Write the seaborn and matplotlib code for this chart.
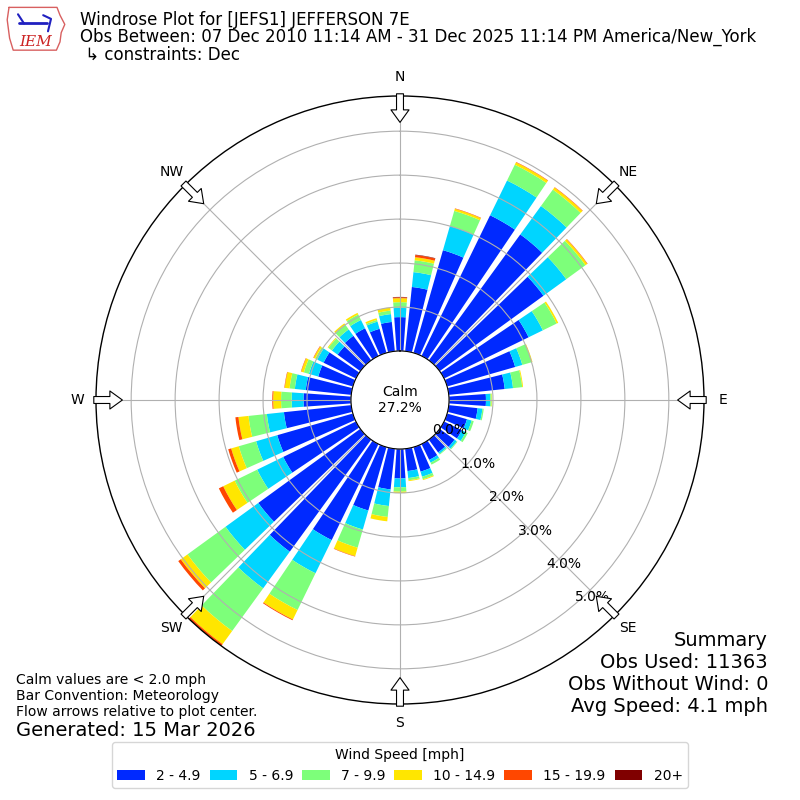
import numpy as np
import matplotlib
matplotlib.use('Agg')
import matplotlib.pyplot as plt
import seaborn as sns

# wind direction bins (degrees, meteorological) and frequency [%] per speed band
directions = np.arange(0, 360, 10)
speed_bins = ['2 - 4.9', '5 - 6.9', '7 - 9.9', '10 - 14.9', '15 - 19.9', '20+']

pct_2_5 = [0.77, 1.47, 2.43, 3.56, 3.54, 2.92, 2.14, 1.61, 1.28, 0.84, 0.66, 0.47,
           0.45, 0.42, 0.36, 0.40, 0.58, 0.51, 0.67, 0.93, 1.50, 2.43, 3.15, 2.87,
           1.84, 1.79, 1.54, 1.08, 1.04, 0.82, 0.82, 0.64, 0.69, 0.70, 0.57, 0.67]
pct_5_7 = [0.21, 0.34, 0.57, 0.88, 0.80, 0.64, 0.36, 0.17, 0.19, 0.10, 0.11, 0.11,
           0.10, 0.06, 0.04, 0.07, 0.12, 0.16, 0.20, 0.38, 0.45, 0.84, 1.03, 0.92,
           0.66, 0.50, 0.39, 0.27, 0.25, 0.22, 0.16, 0.16, 0.18, 0.21, 0.17, 0.18]
pct_7_10 = [0.13, 0.27, 0.36, 0.40, 0.46, 0.54, 0.35, 0.22, 0.21, 0.03, 0.03, 0.05,
            0.05, 0.02, 0.02, 0.05, 0.06, 0.05, 0.10, 0.25, 0.43, 0.93, 1.20, 1.07,
            0.57, 0.41, 0.42, 0.24, 0.12, 0.12, 0.05, 0.10, 0.13, 0.14, 0.04, 0.08]
pct_10_15 = [0.09, 0.07, 0.05, 0.06, 0.06, 0.05, 0.04, 0.02, 0.02, 0.01, 0.0, 0.0,
             0.0, 0.0, 0.0, 0.0, 0.02, 0.02, 0.03, 0.10, 0.20, 0.24, 0.37, 0.19,
             0.29, 0.18, 0.23, 0.18, 0.11, 0.06, 0.04, 0.02, 0.04, 0.04, 0.04, 0.07]
pct_15_20 = [0.02, 0.05, 0.01, 0.01, 0.01, 0.01, 0.0, 0.0, 0.0, 0.0, 0.0, 0.0,
             0.0, 0.0, 0.0, 0.0, 0.0, 0.0, 0.0, 0.0, 0.01, 0.02, 0.05, 0.07,
             0.11, 0.07, 0.07, 0.02, 0.01, 0.01, 0.01, 0.0, 0.0, 0.0, 0.0, 0.0]
pct_20_up = [0.01, 0.01, 0.0, 0.0, 0.0, 0.0, 0.0, 0.0, 0.0, 0.0, 0.0, 0.0,
             0.0, 0.0, 0.0, 0.0, 0.0, 0.0, 0.0, 0.0, 0.0, 0.0, 0.01, 0.0,
             0.0, 0.0, 0.0, 0.0, 0.0, 0.0, 0.0, 0.0, 0.0, 0.0, 0.0, 0.0]
bands = [pct_2_5, pct_5_7, pct_7_10, pct_10_15, pct_15_20, pct_20_up]

compass = ['N', 'NE', 'E', 'SE', 'S', 'SW', 'W', 'NW']
rings = [0, 1, 2, 3, 4, 5]
calm_pct = 27.2

sns.set_style('white', rc={'text.color': 'black', 'xtick.color': 'black',
                           'ytick.color': 'black', 'axes.edgecolor': 'black',
                           'grid.color': '#b0b0b0', 'axes.axisbelow': 'line'})
plt.rcParams['font.family'] = ['DejaVu Sans']

colors = sns.color_palette(list(plt.get_cmap('jet')(np.arange(1, 7) / 6)))

fig = plt.figure(figsize=(8, 8), dpi=100)
ax = fig.add_axes([0.12, 0.12, 0.76, 0.76], projection='polar')
ax.set_theta_zero_location('N')
ax.set_theta_direction(-1)

theta = np.radians(directions)
width = np.radians(10) * 0.8
bottom = np.zeros(len(directions))
for vals, lab, c in zip(bands, speed_bins, colors):
    ax.bar(theta, vals, width=width, bottom=bottom, color=c, label=lab,
           linewidth=0, zorder=1)
    bottom += np.array(vals)

ax.set_rorigin(-1.115)
ax.set_ylim(0, 5.8)
ax.set_yticks(rings)
ax.set_yticklabels([f'{r:.1f}%' for r in rings], fontsize=10)
ax.set_rlabel_position(139.5)
ax.set_xticks(np.radians(np.arange(0, 360, 45)))
ax.set_xticklabels(compass, fontsize=10)
ax.tick_params(axis='x', pad=3)
ax.grid(True, color='#b0b0b0', lw=0.8)
ax.spines['polar'].set_linewidth(1.0)

# flow arrows at the compass points
for ang in np.arange(0, 360, 45):
    t = np.radians(ang)
    ax.annotate('', xy=(t, 5.2), xytext=(t, 5.85), annotation_clip=False,
                arrowprops=dict(arrowstyle='simple,head_length=0.45,head_width=0.65,tail_width=0.25',
                                fc='white', ec='black', lw=0.8, mutation_scale=20,
                                shrinkA=0, shrinkB=0))

ax.text(0.5, 0.5, f'Calm\n{calm_pct:.1f}%', transform=ax.transAxes,
        ha='center', va='center', fontsize=10)

# header
fig.text(0.1, 1 - 20 / 800, 'Windrose Plot for [JEFS1] JEFFERSON 7E', fontsize=12, va='center')
fig.text(0.1, 1 - 37 / 800, 'Obs Between: 07 Dec 2010 11:14 AM - 31 Dec 2025 11:14 PM America/New_York',
         fontsize=12, va='center')
fig.text(0.1, 1 - 55 / 800, ' \u21b3 constraints: Dec', fontsize=12, va='center')

# simple IEM logo
lax = fig.add_axes([6 / 800, 1 - 52 / 800, 60 / 800, 46 / 800])
lax.set_xlim(0, 1)
lax.set_ylim(0, 1)
lax.axis('off')
lax.plot([0.05, 0.85, 0.9, 0.98, 0.92, 0.9, 0.84, 0.12, 0.06, 0.02, 0.05],
         [0.97, 0.97, 0.8, 0.6, 0.42, 0.22, 0.04, 0.04, 0.3, 0.7, 0.97],
         color='#d86060', lw=1)
lax.plot([0.22, 0.68], [0.62, 0.62], color='#2020c0', lw=2)
lax.plot([0.2, 0.3], [0.82, 0.62], color='#2020c0', lw=1.5)
lax.plot([0.62, 0.75, 0.7], [0.8, 0.72, 0.45], color='#2020c0', lw=1.5)
lax.text(0.5, 0.22, 'IEM', color='#cc2222', fontsize=11, ha='center', va='center',
         family='DejaVu Serif', style='italic')

# footer notes
fig.text(16 / 800, 1 - 680 / 800, 'Calm values are < 2.0 mph', fontsize=10, va='center')
fig.text(16 / 800, 1 - 696 / 800, 'Bar Convention: Meteorology', fontsize=10, va='center')
fig.text(16 / 800, 1 - 712 / 800, 'Flow arrows relative to plot center.', fontsize=10, va='center')
fig.text(16 / 800, 1 - 730 / 800, 'Generated: 15 Mar 2026', fontsize=14, va='center')

summary = ['Summary', 'Obs Used: 11363', 'Obs Without Wind: 0', 'Avg Speed: 4.1 mph']
for i, s in enumerate(summary):
    fig.text(768 / 800, 1 - (640 + 22 * i) / 800, s, fontsize=14, ha='right', va='center')

fig.legend(loc='lower center', bbox_to_anchor=(0.5, 0.006), ncol=6,
           title='Wind Speed [mph]', fontsize=10, title_fontsize=10, frameon=True,
           columnspacing=0.65)

fig.savefig('out.png', dpi=100)
